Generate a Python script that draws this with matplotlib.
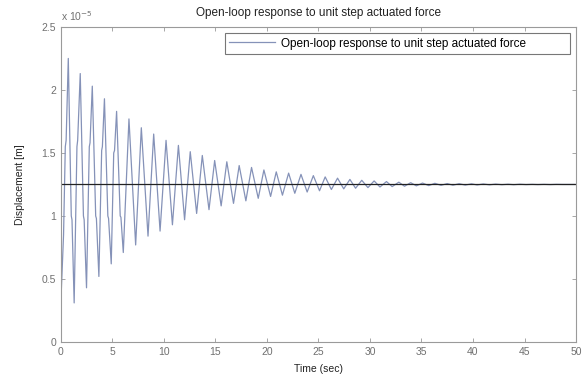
import numpy as np
import matplotlib.pyplot as plt

# values (displacement in units of 1e-5 m)
peak_t = [0.71, 1.87, 3.04, 4.22, 5.40, 6.60, 7.80, 9.00, 10.2, 11.4,
          12.55, 13.72, 14.92, 16.1, 17.3, 18.5, 19.7, 20.9, 22.1, 23.3,
          24.5, 25.65, 26.85, 28.05, 29.2, 30.4, 31.6, 32.8, 33.95, 35.1,
          36.3, 37.5, 38.65, 39.85, 41.0, 42.2, 43.4, 44.55, 45.75, 46.9,
          48.1, 49.3]
peak_v = [2.25, 2.13, 2.03, 1.93, 1.83, 1.77, 1.70, 1.65, 1.60, 1.56,
          1.51, 1.48, 1.44, 1.43, 1.40, 1.385, 1.365, 1.35, 1.34, 1.33,
          1.32, 1.31, 1.30, 1.29, 1.283, 1.278, 1.273, 1.268, 1.264, 1.261,
          1.259, 1.257, 1.256, 1.255, 1.254, 1.253, 1.252, 1.252, 1.251, 1.251,
          1.251, 1.250]
trough_t = [1.28, 2.48, 3.68, 4.88, 6.05, 7.25, 8.45, 9.62, 10.82, 12.0,
            13.17, 14.37, 15.55, 16.75, 17.95, 19.15, 20.35, 21.5, 22.7, 23.9,
            25.1, 26.25, 27.45, 28.6, 29.8, 30.97, 32.15, 33.35, 34.5, 35.7,
            36.9, 38.05, 39.25, 40.4, 41.6, 42.8, 43.95, 45.15, 46.3, 47.5,
            48.7, 49.9]
trough_v = [0.31, 0.43, 0.52, 0.62, 0.71, 0.77, 0.84, 0.88, 0.93, 0.97,
            1.02, 1.05, 1.08, 1.10, 1.12, 1.14, 1.155, 1.165, 1.18, 1.19,
            1.20, 1.21, 1.215, 1.22, 1.225, 1.23, 1.233, 1.236, 1.239, 1.241,
            1.243, 1.244, 1.245, 1.246, 1.247, 1.248, 1.248, 1.249, 1.249, 1.249,
            1.250, 1.250]
# start of the response and the kinks on the first few swings
extra_t = [0.0, 0.03, 0.25, 0.42, 0.50,
           1.00, 1.07, 1.55, 1.62, 2.18, 2.25, 2.75, 2.82,
           3.37, 3.44, 3.95, 4.02, 4.55, 4.62, 5.12, 5.20, 5.75, 5.82]
extra_v = [0.0, 0.40, 0.85, 1.55, 1.60,
           1.00, 0.97, 1.55, 1.60, 1.00, 0.97, 1.55, 1.58,
           1.00, 0.98, 1.52, 1.55, 1.00, 0.98, 1.50, 1.52, 1.00, 0.99]
final_value = 1.25

t = np.array(peak_t + trough_t + extra_t)
y = np.array(peak_v + trough_v + extra_v)
order = np.argsort(t)
t = t[order]
y = y[order]

plt.rcParams['font.family'] = ['Liberation Sans', 'DejaVu Sans']

fig = plt.figure(figsize=(5.88, 3.74), dpi=100)
ax = fig.add_axes([0.1037, 0.0856, 0.8759, 0.8424])

ax.plot(t, y, color='#8592b8', linewidth=0.9,
        label='Open-loop response to unit step actuated force' + '\u2007' * 6)
ax.axhline(final_value, color='#222222', linewidth=0.9)

ax.set_xlim(0, 50)
ax.set_ylim(0, 2.5)
ax.set_xticks(np.arange(0, 51, 5))
ax.set_yticks([0, 0.5, 1, 1.5, 2, 2.5])
ax.set_yticklabels(['0', '0.5', '1', '1.5', '2', '2.5'])
ax.tick_params(direction='in', length=3, width=0.6, colors='#999999',
               labelcolor='#707070', labelsize=7.5, top=True, right=True)
for s in ax.spines.values():
    s.set_color('#9a9a9a')
    s.set_linewidth(0.8)

ax.text(0.0, 1.012, 'x 10$^{-5}$', transform=ax.transAxes, fontsize=7.5,
        color='#707070', ha='left', va='bottom')
ax.set_title('Open-loop response to unit step actuated force', fontsize=8.5,
             color='#222222', pad=8)
ax.set_xlabel('Time (sec)', fontsize=7.5, color='#222222', labelpad=5)
ax.set_ylabel('Displacement [m]', fontsize=7.5, color='#222222', labelpad=12)

leg = ax.legend(loc='upper right', fontsize=8.5, frameon=True, fancybox=False,
                borderpad=0.4, handlelength=3.9, handletextpad=0.5,
                borderaxespad=0.5)
leg.get_frame().set_edgecolor('#555555')
leg.get_frame().set_linewidth(0.8)

fig.savefig('out.png', dpi=100)
